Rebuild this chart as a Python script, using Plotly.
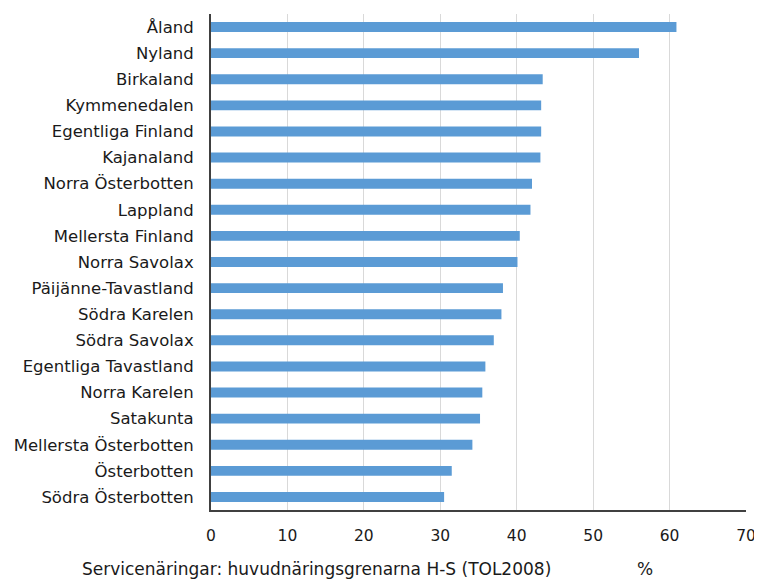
import plotly.graph_objects as go

regions = ["Åland", "Nyland", "Birkaland", "Kymmenedalen", "Egentliga Finland",
           "Kajanaland", "Norra Österbotten", "Lappland", "Mellersta Finland",
           "Norra Savolax", "Päijänne-Tavastland", "Södra Karelen", "Södra Savolax",
           "Egentliga Tavastland", "Norra Karelen", "Satakunta",
           "Mellersta Österbotten", "Österbotten", "Södra Österbotten"]
values = [60.9, 56.0, 43.4, 43.2, 43.2, 43.1, 42.0, 41.8, 40.4, 40.1,
          38.2, 38.0, 37.0, 35.9, 35.5, 35.2, 34.2, 31.5, 30.5]
x_ticks = [0, 10, 20, 30, 40, 50, 60, 70]
caption = "Servicenäringar: huvudnäringsgrenarna H-S (TOL2008)"
unit = "%"

# page body has an 8px default margin; figure is sized so the plot lands where the reference has it
W, H = 754, 574
L, R, T, B = 202, 14, 6, 72
plot_w = W - L - R
plot_h = H - T - B

fig = go.Figure(go.Bar(
    y=regions, x=values, orientation="h",
    marker=dict(color="#5B9BD5", line=dict(width=0)),
    width=0.38,
))

fig.update_layout(
    width=W, height=H,
    margin=dict(l=L, r=R, t=T, b=B),
    paper_bgcolor="white", plot_bgcolor="white",
    font=dict(family="DejaVu Sans", size=16, color="#1a1a1a"),
    showlegend=False,
)
fig.update_xaxes(
    range=[0, 70], tickvals=x_ticks, showgrid=True, gridcolor="#D9D9D9",
    gridwidth=1, zeroline=False, showline=True, linecolor="#404040",
    linewidth=2, ticks="", tickfont=dict(size=15.5), ticklabelstandoff=10,
)
fig.update_yaxes(
    categoryorder="array", categoryarray=regions, autorange="reversed",
    showline=True, linecolor="#404040", linewidth=2, ticks="",
    tickfont=dict(size=16.5), ticklabelstandoff=12,
)
cap_y = -(569 - 8 - (T + plot_h)) / plot_h
fig.add_annotation(text=caption, xref="paper", yref="paper",
                   x=(316.5 - 8 - L) / plot_w, y=cap_y, xanchor="center", yanchor="middle",
                   showarrow=False, font=dict(size=17))
fig.add_annotation(text=unit, xref="paper", yref="paper",
                   x=(646 - 8 - L) / plot_w, y=cap_y, xanchor="center", yanchor="middle",
                   showarrow=False, font=dict(size=17))

fig.write_html("out.html")
